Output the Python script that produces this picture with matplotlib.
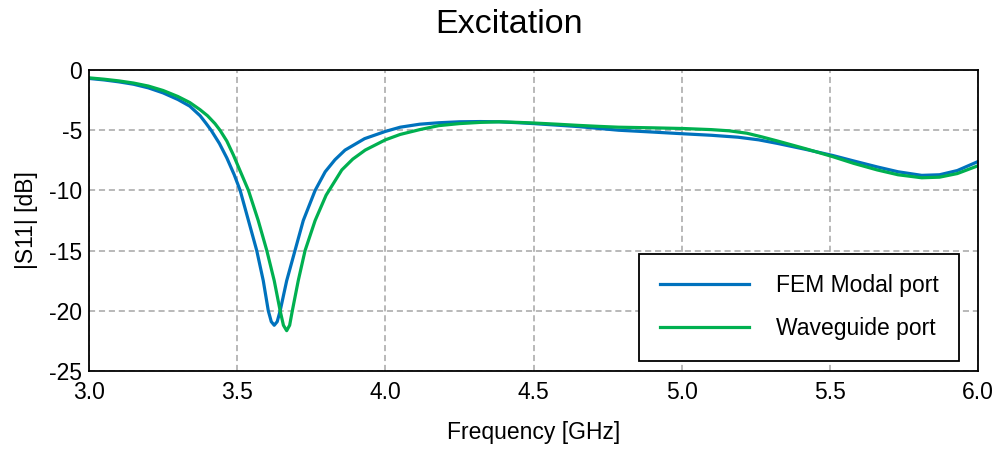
from matplotlib import pyplot as plt

plt.rcParams['font.family'] = ['Liberation Sans', 'DejaVu Sans']

# Frequency [GHz] and |S11| [dB]
freq_fem = [3.00, 3.05, 3.10, 3.15, 3.20, 3.25, 3.30, 3.34, 3.375, 3.394, 3.412,
            3.44, 3.465, 3.49, 3.51, 3.538, 3.566, 3.588, 3.605, 3.615, 3.625,
            3.635, 3.645, 3.667, 3.695, 3.723, 3.763, 3.797, 3.83, 3.864,
            3.93, 4.00, 4.05, 4.116, 4.18, 4.25, 4.32, 4.384, 4.45, 4.50, 4.58,
            4.653, 4.72, 4.787, 4.90, 5.008, 5.10, 5.19, 5.26, 5.324, 5.42,
            5.51, 5.58, 5.66, 5.73, 5.81, 5.87, 5.93, 6.00]
s11_fem = [-0.70, -0.82, -0.98, -1.18, -1.48, -1.90, -2.45, -3.00, -3.80, -4.40, -5.00,
           -6.10, -7.30, -8.70, -10.0, -12.5, -15.0, -17.5, -20.0, -20.9, -21.2,
           -20.9, -20.0, -17.5, -15.0, -12.5, -10.0, -8.45, -7.45, -6.65,
           -5.7, -5.1, -4.75, -4.5, -4.38, -4.3, -4.28, -4.3, -4.38, -4.45, -4.58,
           -4.7, -4.85, -5.0, -5.15, -5.3, -5.42, -5.58, -5.8, -6.1, -6.6,
           -7.1, -7.55, -8.05, -8.45, -8.75, -8.7, -8.35, -7.6]

freq_wg = [3.00, 3.05, 3.10, 3.15, 3.20, 3.25, 3.30, 3.34, 3.375, 3.40, 3.425,
           3.442, 3.465, 3.487, 3.512, 3.538, 3.571, 3.60, 3.625, 3.645, 3.656,
           3.667, 3.677, 3.686, 3.706, 3.729, 3.763, 3.80, 3.853, 3.89, 3.932,
           4.00, 4.05, 4.116, 4.18, 4.25, 4.32, 4.384, 4.45, 4.50, 4.58, 4.653,
           4.72, 4.787, 4.90, 5.008, 5.10, 5.16, 5.22, 5.27, 5.324, 5.42, 5.51,
           5.58, 5.66, 5.73, 5.81, 5.87, 5.93, 6.00]
s11_wg = [-0.65, -0.76, -0.90, -1.08, -1.33, -1.70, -2.20, -2.70, -3.30, -3.80, -4.45,
          -5.00, -5.90, -7.05, -8.50, -10.0, -12.5, -15.0, -17.5, -20.0, -21.2,
          -21.65, -21.2, -20.0, -17.5, -15.0, -12.5, -10.4, -8.3, -7.4, -6.65,
          -5.8, -5.35, -4.95, -4.62, -4.45, -4.35, -4.3, -4.35, -4.4, -4.5, -4.6,
          -4.68, -4.75, -4.8, -4.86, -4.95, -5.05, -5.25, -5.55, -5.9, -6.55, -7.2,
          -7.75, -8.3, -8.7, -8.95, -8.9, -8.6, -7.95]

x_ticks = [3.0, 3.5, 4.0, 4.5, 5.0, 5.5, 6.0]
y_ticks = [0, -5, -10, -15, -20, -25]

fig = plt.figure(figsize=(9.98, 4.55), dpi=100)
ax = fig.add_axes([0.0892, 0.1846, 0.8908, 0.6615])

ax.plot(freq_fem, s11_fem, color='#0072BD', lw=2.3, label='FEM Modal port')
ax.plot(freq_wg, s11_wg, color='#00B050', lw=2.3, label='Waveguide port')

ax.set_xlim(3.0, 6.0)
ax.set_ylim(-25, 0)
ax.set_xticks(x_ticks)
ax.set_xticklabels(['%.1f' % t for t in x_ticks])
ax.set_yticks(y_ticks)
ax.set_yticklabels([str(t) for t in y_ticks])
ax.tick_params(length=0, labelsize=16.5)
ax.tick_params(axis='x', pad=7.5)
ax.tick_params(axis='y', pad=5)
ax.grid(True, color='#a6a6a6', linestyle=(0, (4, 2.5)), lw=1.1)
for s in ax.spines.values():
    s.set_linewidth(1.3)

ax.set_xlabel('Frequency [GHz]', fontsize=16.5, labelpad=12)
ax.set_ylabel('|S11| [dB]', fontsize=16.5, labelpad=8)
ax.set_title('Excitation', fontsize=24.5, pad=27, x=0.472)

leg = ax.legend(loc='lower right', bbox_to_anchor=(0.979, 0.034), fontsize=16.5,
                frameon=True, fancybox=False, edgecolor='black', framealpha=1,
                handlelength=3.9, handletextpad=1.18, borderpad=0.9,
                labelspacing=0.87, borderaxespad=0)
leg.get_frame().set_linewidth(1.3)

fig.savefig('out.png', dpi=100)
